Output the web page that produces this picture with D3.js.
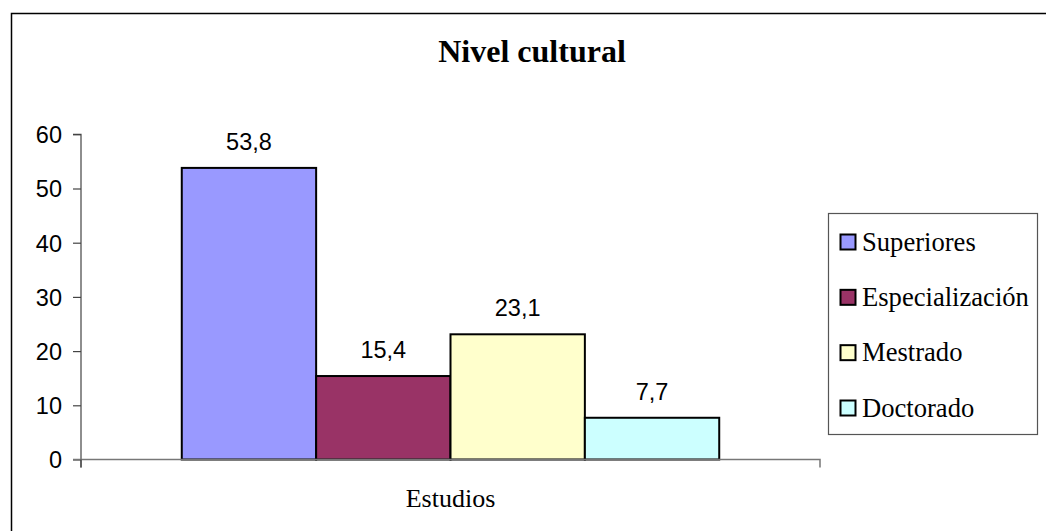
<!DOCTYPE html>
<html>
<head>
<meta charset="utf-8">
<script src="https://cdn.jsdelivr.net/npm/d3@7"></script>
<style>
  html, body { margin: 0; padding: 0; background: #fff; }
  svg { display: block; }
</style>
</head>
<body>
<svg id="chart" width="1046" height="531"></svg>
<script>
// Chart data
const title = "Nivel cultural";
const category = "Estudios";
const seriesNames = ["Superiores", "Especialización", "Mestrado", "Doctorado"];
const seriesValues = [53.8, 15.4, 23.1, 7.7];
const seriesColors = ["#9999FF", "#993366", "#FFFFCC", "#CCFFFF"];
const yTicks = [0, 10, 20, 30, 40, 50, 60];

const svg = d3.select("#chart");
const sans = "'Liberation Sans', Arial, sans-serif";
const serif = "'Liberation Serif', 'Times New Roman', serif";

// Chart frame
svg.append("rect")
  .attr("x", 11.5).attr("y", 13.5)
  .attr("width", 1100).attr("height", 600)
  .attr("fill", "#fff").attr("stroke", "#000").attr("stroke-width", 1.5);

// Plot area
const plot = { left: 81, right: 820, top: 134.3, bottom: 459.5 };

const y = d3.scaleLinear().domain([0, 60]).range([plot.bottom, plot.top]);

const x = d3.scaleBand()
  .domain(seriesNames)
  .range([plot.left, plot.right])
  .paddingInner(0)
  .paddingOuter(0.75);

// Title
svg.append("text")
  .attr("x", 532).attr("y", 61.5)
  .attr("text-anchor", "middle")
  .attr("font-family", serif).attr("font-weight", "bold").attr("font-size", 32)
  .text(title);

// Bars
const data = seriesNames.map((name, i) => ({ name, value: seriesValues[i], color: seriesColors[i] }));

svg.append("g").selectAll("rect")
  .data(data)
  .join("rect")
  .attr("x", d => x(d.name))
  .attr("y", d => y(d.value))
  .attr("width", x.bandwidth())
  .attr("height", d => y(0) - y(d.value))
  .attr("fill", d => d.color)
  .attr("stroke", "#000")
  .attr("stroke-width", 2);

// Value labels
svg.append("g").selectAll("text")
  .data(data)
  .join("text")
  .attr("x", d => x(d.name) + x.bandwidth() / 2)
  .attr("y", d => y(d.value) - 18)
  .attr("text-anchor", "middle")
  .attr("font-family", sans).attr("font-size", 23.5)
  .text(d => d3.format(".1f")(d.value).replace(".", ","));

// Y axis
const yAxis = d3.axisLeft(y).tickValues(yTicks).tickSize(8).tickPadding(11);
const gy = svg.append("g")
  .attr("transform", `translate(${plot.left},0)`)
  .call(yAxis);
gy.select(".domain").attr("stroke", "#444").attr("stroke-width", 1.2)
  .attr("d", `M-8,${plot.top}H0V${plot.bottom + 8}`);
gy.selectAll(".tick line").attr("stroke", "#444").attr("stroke-width", 1.2);
gy.selectAll(".tick text")
  .attr("font-family", sans).attr("font-size", 23.5).attr("fill", "#000")
  .attr("dy", "0.36em");

// X axis (single category)
const xCat = d3.scaleBand().domain([category]).range([plot.left, plot.right]);
const gx = svg.append("g")
  .attr("transform", `translate(0,${plot.bottom})`)
  .call(d3.axisBottom(xCat).tickSize(0).tickPadding(0));
gx.select(".domain").attr("stroke", "#777").attr("stroke-width", 1.5)
  .attr("d", `M${plot.left - 8},0H${plot.right}V8`);
gx.selectAll(".tick text")
  .attr("font-family", serif).attr("font-size", 26).attr("fill", "#000")
  .attr("y", 47).attr("dy", 0);
gx.append("line")
  .attr("x1", plot.left).attr("x2", plot.left)
  .attr("y1", 0).attr("y2", 8)
  .attr("stroke", "#444").attr("stroke-width", 1.2);

// Legend
const legend = svg.append("g");
legend.append("rect")
  .attr("x", 828.5).attr("y", 213.5)
  .attr("width", 209).attr("height", 221)
  .attr("fill", "#fff").attr("stroke", "#555").attr("stroke-width", 1.2);

const legendY = d3.scalePoint().domain(seriesNames).range([250.5, 416.5]);

const items = legend.selectAll("g.item")
  .data(data)
  .join("g")
  .attr("class", "item")
  .attr("transform", d => `translate(0,${legendY(d.name)})`);

items.append("rect")
  .attr("x", 840.5).attr("y", -16)
  .attr("width", 15).attr("height", 15)
  .attr("fill", d => d.color)
  .attr("stroke", "#000").attr("stroke-width", 2);

items.append("text")
  .attr("x", 862).attr("y", 0)
  .attr("font-family", serif).attr("font-size", 26.6).attr("fill", "#000")
  .text(d => d.name);
</script>
</body>
</html>
